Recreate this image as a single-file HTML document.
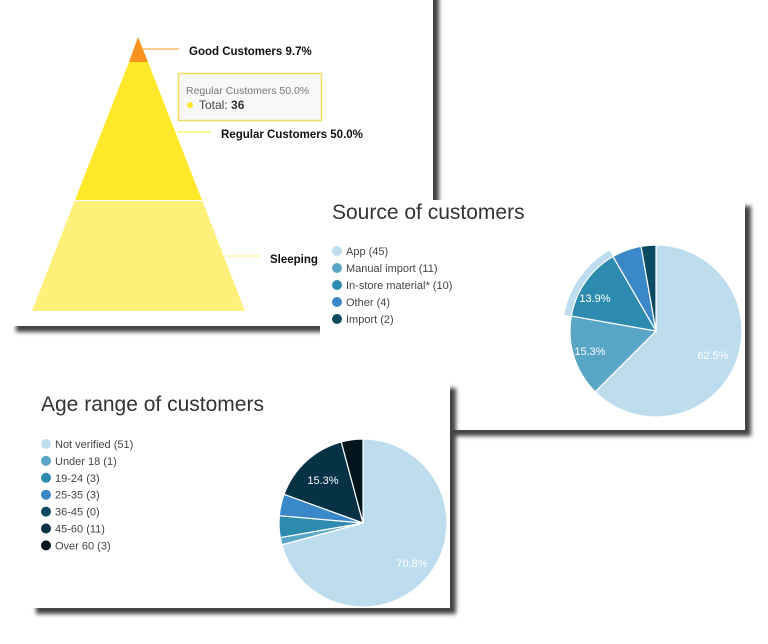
<!DOCTYPE html>
<html><head><meta charset="utf-8">
<style>
body{margin:0;width:768px;height:644px;background:#fff;position:relative;overflow:hidden;font-family:"Liberation Sans",sans-serif}
.card{position:absolute;background:#fff;box-shadow:6px 6px 4px #444}
svg{position:absolute;left:0;top:0}
</style></head><body>
<div class="card" style="left:10px;top:-20px;width:423px;height:346px"></div>
<svg width="768" height="644" style="z-index:1">
<polygon points="138,37 148,62 129,62" fill="#f7931e"/>
<polygon points="129,62 148,62 202,200 75,200" fill="#ffe82a"/>
<polygon points="75,200 202,200 245,311 32,311" fill="#fff07a"/>
<line x1="75" y1="200.5" x2="202" y2="200.5" stroke="#fff"/>
<line x1="143" y1="49" x2="179" y2="49" stroke="#f7931e"/>
<line x1="177" y1="132" x2="211" y2="132" stroke="#ffe82a"/>
<line x1="225" y1="256" x2="260" y2="256" stroke="#fff07a"/>
<g font-weight="bold" font-size="11.5" fill="#111">
<text x="189" y="55">Good Customers 9.7%</text>
<text x="221" y="138">Regular Customers 50.0%</text>
<text x="270" y="263">Sleeping</text>
</g>
<rect x="178.5" y="73.5" width="143" height="47" fill="#f8f8f8" stroke="#f0dc60" stroke-width="1.5"/>
<text x="186" y="94" font-size="10.5" fill="#777">Regular Customers 50.0%</text>
<circle cx="190" cy="105" r="3" fill="#ffe82a"/>
<text x="199" y="109" font-size="12" fill="#444">Total: <tspan font-weight="bold" fill="#333">36</tspan></text>
</svg>
<div class="card" style="left:320px;top:200px;width:425px;height:230px;z-index:2"></div>
<div class="card" style="left:30px;top:382px;width:420px;height:226px;z-index:3"></div>
<svg width="768" height="644" style="z-index:4" id="s">
<text x="332" y="219" font-size="21" fill="#333">Source of customers</text>
<text x="41" y="411" font-size="21" fill="#333">Age range of customers</text>
</svg>
<script>
var s=document.getElementById('s'),NS='http://www.w3.org/2000/svg';
function el(t,a,txt){var e=document.createElementNS(NS,t);for(var k in a)e.setAttribute(k,a[k]);if(txt)e.textContent=txt;s.appendChild(e);return e;}
function pt(cx,cy,r,f){var a=f*2*Math.PI;return [cx+r*Math.sin(a),cy-r*Math.cos(a)];}
function pie(cx,cy,r,data,halo){var tot=0;data.forEach(d=>tot+=d[1]);var c=0;
data.forEach(function(d,i){if(!d[1])return;var a=c/tot,b=(c+d[1])/tot;c+=d[1];
var p1=pt(cx,cy,r,a),p2=pt(cx,cy,r,b),lg=(b-a)>0.5?1:0;
if(halo===i){var q1=pt(cx,cy,r+7,a),q2=pt(cx,cy,r+7,b);
el('path',{d:'M'+p1+' A'+r+','+r+' 0 '+lg+' 1 '+p2+' L'+q2+' A'+(r+7)+','+(r+7)+' 0 '+lg+' 0 '+q1+'Z',fill:'#bddced'});}
el('path',{d:'M'+cx+','+cy+' L'+p1+' A'+r+','+r+' 0 '+lg+' 1 '+p2+'Z',fill:d[2],stroke:'#fff','stroke-width':1.2});});}
pie(656,331,86,[['App',45,'#bddced'],['M',11,'#58a5c5'],['I',10,'#2e8bb0'],['O',4,'#3a88c8'],['Im',2,'#0a4a63']],2);
pie(363,523,84,[['N',51,'#bddced'],['U',1,'#58a5c5'],['a',3,'#2e8bb0'],['b',3,'#3a88c8'],['c',0,'#0b4a60'],['d',11,'#073245'],['e',3,'#02141c']]);
[['62.5%',713,359],['15.3%',590,355],['13.9%',595,302],['70.8%',412,567],['15.3%',323,484]].forEach(function(t){el('text',{x:t[1],y:t[2],'font-size':11,fill:'#fff','text-anchor':'middle'},t[0]);});
function leg(x,y0,dy,items){items.forEach(function(it,i){var y=y0+i*dy;el('circle',{cx:x,cy:y,r:5,fill:it[1]});el('text',{x:x+9,y:y+4,'font-size':11,fill:'#444'},it[0]);});}
leg(337,251,17,[['App (45)','#bddced'],['Manual import (11)','#58a5c5'],['In-store material* (10)','#2e8bb0'],['Other (4)','#3a88c8'],['Import (2)','#0a4a63']]);
leg(46,444,16.9,[['Not verified (51)','#bddced'],['Under 18 (1)','#58a5c5'],['19-24 (3)','#2e8bb0'],['25-35 (3)','#3a88c8'],['36-45 (0)','#0b4a60'],['45-60 (11)','#073245'],['Over 60 (3)','#02141c']]);
</script>
</body></html>
